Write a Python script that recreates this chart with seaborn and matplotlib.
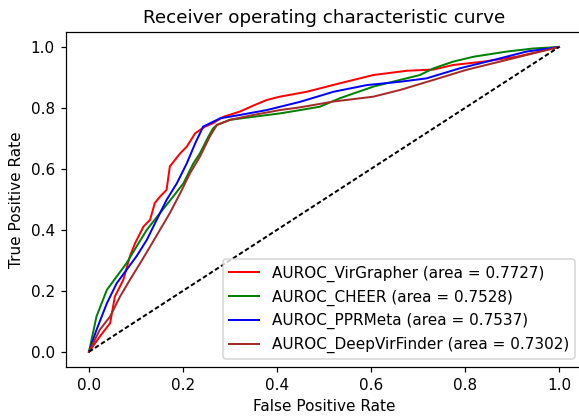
import matplotlib
matplotlib.use("Agg")
import matplotlib.pyplot as plt
import seaborn as sns
import pandas as pd

# VirGrapher (red)
vg_fpr = [0.0, 0.023, 0.045, 0.055, 0.073, 0.087, 0.098, 0.116, 0.130, 0.140, 0.151, 0.165,
          0.172, 0.194, 0.208, 0.226, 0.247, 0.264, 0.286, 0.321, 0.350, 0.378, 0.406,
          0.463, 0.534, 0.605, 0.676, 0.733, 0.775, 0.839, 0.910, 1.0]
vg_tpr = [0.0, 0.050, 0.094, 0.181, 0.236, 0.313, 0.356, 0.411, 0.433, 0.488, 0.509, 0.531,
          0.608, 0.651, 0.673, 0.717, 0.739, 0.750, 0.771, 0.788, 0.808, 0.826, 0.837,
          0.853, 0.881, 0.908, 0.922, 0.926, 0.941, 0.952, 0.968, 1.0]

# CHEER (green)
ch_fpr = [0.0, 0.016, 0.038, 0.059, 0.080, 0.101, 0.123, 0.151, 0.179, 0.201, 0.222, 0.236,
          0.254, 0.264, 0.272, 0.300, 0.350, 0.406, 0.449, 0.491, 0.534, 0.605, 0.662,
          0.704, 0.733, 0.775, 0.818, 0.889, 0.945, 1.0]
ch_tpr = [0.0, 0.116, 0.203, 0.247, 0.291, 0.345, 0.400, 0.455, 0.509, 0.553, 0.618, 0.651,
          0.706, 0.733, 0.744, 0.761, 0.771, 0.782, 0.793, 0.804, 0.832, 0.870, 0.892,
          0.908, 0.930, 0.952, 0.968, 0.985, 0.995, 1.0]

# PPRMeta (blue)
pm_fpr = [0.0, 0.016, 0.038, 0.059, 0.080, 0.101, 0.123, 0.144, 0.165, 0.187, 0.208, 0.226,
          0.243, 0.250, 0.279, 0.321, 0.378, 0.449, 0.520, 0.591, 0.662, 0.718, 0.789,
          0.860, 0.931, 1.0]
pm_tpr = [0.0, 0.072, 0.159, 0.225, 0.269, 0.313, 0.367, 0.433, 0.498, 0.553, 0.618, 0.684,
          0.739, 0.744, 0.766, 0.777, 0.793, 0.820, 0.853, 0.875, 0.886, 0.897, 0.930,
          0.957, 0.985, 1.0]

# DeepVirFinder (brown)
dv_fpr = [0.0, 0.023, 0.045, 0.066, 0.087, 0.109, 0.130, 0.151, 0.172, 0.194, 0.215, 0.236,
          0.257, 0.272, 0.300, 0.350, 0.406, 0.449, 0.520, 0.605, 0.662, 0.733, 0.803,
          0.874, 0.945, 1.0]
dv_tpr = [0.0, 0.072, 0.116, 0.181, 0.236, 0.291, 0.345, 0.400, 0.455, 0.520, 0.586, 0.640,
          0.706, 0.744, 0.761, 0.777, 0.793, 0.802, 0.821, 0.837, 0.859, 0.892, 0.925,
          0.952, 0.979, 1.0]

labels = ["AUROC_VirGrapher (area = 0.7727)",
          "AUROC_CHEER (area = 0.7528)",
          "AUROC_PPRMeta (area = 0.7537)",
          "AUROC_DeepVirFinder (area = 0.7302)"]
colors = ["red", "green", "blue", "brown"]
series = [(vg_fpr, vg_tpr), (ch_fpr, ch_tpr), (pm_fpr, pm_tpr), (dv_fpr, dv_tpr)]

DPI = 110
fig = plt.figure(figsize=(579 / DPI, 420 / DPI), dpi=DPI)
ax = fig.add_axes([65.5 / 579, 1 - 367 / 420, 517 / 579, 335.25 / 420])

for (fx, ty), lab, col in zip(series, labels, colors):
    df = pd.DataFrame({"fpr": fx, "tpr": ty})
    sns.lineplot(data=df, x="fpr", y="tpr", ax=ax, color=col, label=lab,
                 estimator=None, sort=False, linewidth=1.3)

diag = sns.lineplot(x=[0, 1], y=[0, 1], ax=ax, color="black",
                    linewidth=1.3, estimator=None, sort=False)
diag.lines[-1].set_dashes((2.3, 1.3))

ax.set_xlim(-0.05, 1.05)
ax.set_ylim(-0.05, 1.05)
ax.set_xticks([0.0, 0.2, 0.4, 0.6, 0.8, 1.0])
ax.set_yticks([0.0, 0.2, 0.4, 0.6, 0.8, 1.0])
ax.set_xlabel("False Positive Rate")
ax.set_ylabel("True Positive Rate")
ax.set_title("Receiver operating characteristic curve")
ax.legend(loc="lower right")

fig.savefig("out.png", dpi=DPI)
